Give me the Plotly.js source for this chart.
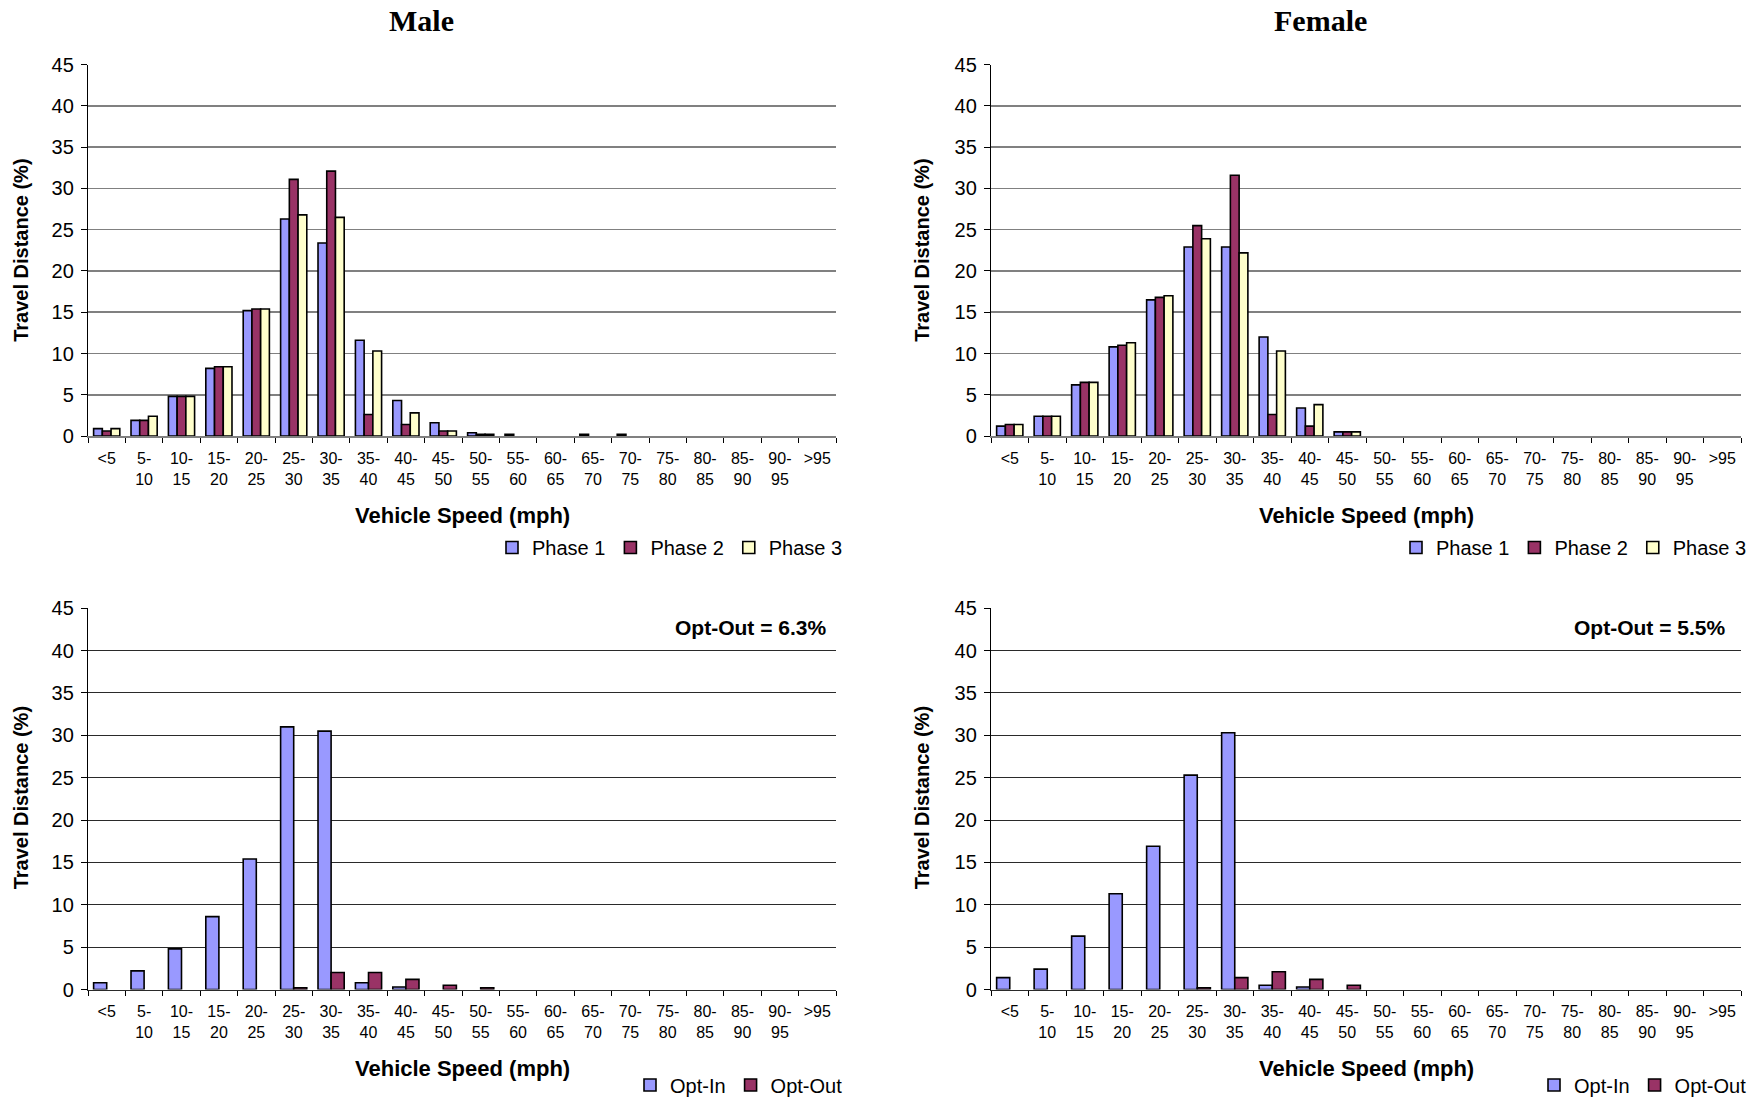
<!DOCTYPE html>
<html>
<head>
<meta charset="utf-8">
<script src="https://cdn.plot.ly/plotly-3.0.1.min.js"></script>
<style>
  html, body { margin: 0; padding: 0; background: #fff; }
  #chart { width: 1762px; height: 1105px; }
</style>
</head>
<body>
<div id="chart"></div>
<script>
// ---- data ----
const categories = ["<5","5-10","10-15","15-20","20-25","25-30","30-35","35-40","40-45","45-50",
                    "50-55","55-60","60-65","65-70","70-75","75-80","80-85","85-90","90-95",">95"];
const tickLabels = ["<5","5-<br>10","10-<br>15","15-<br>20","20-<br>25","25-<br>30","30-<br>35","35-<br>40","40-<br>45","45-<br>50",
                    "50-<br>55","55-<br>60","60-<br>65","65-<br>70","70-<br>75","75-<br>80","80-<br>85","85-<br>90","90-<br>95",">95"];
const yTickValues = [0,5,10,15,20,25,30,35,40,45];

const malePhase1 = [0.9,1.9,4.8,8.2,15.2,26.3,23.4,11.6,4.3,1.6,0.4,0.2,0,0.2,0.2,0,0,0,0,0];
const malePhase2 = [0.6,1.9,4.8,8.4,15.4,31.1,32.1,2.6,1.4,0.6,0.2,0,0,0,0,0,0,0,0,0];
const malePhase3 = [0.9,2.4,4.8,8.4,15.4,26.8,26.5,10.3,2.8,0.6,0.2,0,0,0,0,0,0,0,0,0];

const femalePhase1 = [1.2,2.4,6.2,10.8,16.5,22.9,22.9,12.0,3.4,0.5,0,0,0,0,0,0,0,0,0,0];
const femalePhase2 = [1.4,2.4,6.5,11.0,16.8,25.5,31.6,2.6,1.2,0.5,0,0,0,0,0,0,0,0,0,0];
const femalePhase3 = [1.4,2.4,6.5,11.3,17.0,23.9,22.2,10.3,3.8,0.5,0,0,0,0,0,0,0,0,0,0];

const maleOptIn  = [0.8,2.2,4.8,8.6,15.4,31.0,30.5,0.8,0.3,0,0,0,0,0,0,0,0,0,0,0];
const maleOptOut = [0,0,0,0,0,0.2,2.0,2.0,1.2,0.5,0.2,0,0,0,0,0,0,0,0,0];

const femaleOptIn  = [1.4,2.4,6.3,11.3,16.9,25.3,30.3,0.5,0.3,0,0,0,0,0,0,0,0,0,0,0];
const femaleOptOut = [0,0,0,0,0,0.2,1.4,2.1,1.2,0.5,0,0,0,0,0,0,0,0,0,0];

const panelTitles = ["Male","Female"];
const optOutNotes = ["Opt-Out = 6.3%","Opt-Out = 5.5%"];
const phaseNames = ["Phase 1","Phase 2","Phase 3"];
const optNames = ["Opt-In","Opt-Out"];

// ---- styles ----
const colP1 = "#9999FF", colP2 = "#993366", colP3 = "#FFFFCC";
const sans = "Liberation Sans, Arial, sans-serif";
const W = 1762, H = 1105;
const px = v => v / W;
const py = v => 1 - v / H;

function bar(y, name, color, xa, ya, leg) {
  return {
    type: "bar", x: categories,
    // a zero value draws no bar at all (as in the original chart)
    y: y.map(v => (v === 0 ? null : v)),
    name: name, xaxis: xa, yaxis: ya, legend: leg, showlegend: true,
    marker: { color: color, line: { color: "#000", width: 1.6 } },
    hoverinfo: "x+y+name"
  };
}

const data = [
  bar(malePhase1, phaseNames[0], colP1, "x", "y", "legend"),
  bar(malePhase2, phaseNames[1], colP2, "x", "y", "legend"),
  bar(malePhase3, phaseNames[2], colP3, "x", "y", "legend"),
  bar(femalePhase1, phaseNames[0], colP1, "x2", "y2", "legend2"),
  bar(femalePhase2, phaseNames[1], colP2, "x2", "y2", "legend2"),
  bar(femalePhase3, phaseNames[2], colP3, "x2", "y2", "legend2"),
  bar(maleOptIn, optNames[0], colP1, "x3", "y3", "legend3"),
  bar(maleOptOut, optNames[1], colP2, "x3", "y3", "legend3"),
  bar(femaleOptIn, optNames[0], colP1, "x4", "y4", "legend4"),
  bar(femaleOptOut, optNames[1], colP2, "x4", "y4", "legend4")
];

function xax(domain, anchor, lineColor) {
  return {
    domain: domain, anchor: anchor, type: "category",
    range: [-0.5, categories.length - 0.5],
    tickmode: "array", tickvals: categories, ticktext: tickLabels,
    tickson: "boundaries", ticks: "outside", ticklen: 5, tickwidth: 1, tickcolor: "#000",
    showline: true, linecolor: lineColor, linewidth: 1.5,
    showgrid: false, zeroline: false,
    tickfont: { family: sans, size: 16, color: "#000" },
    ticklabelstandoff: 7,
    tickangle: 0, fixedrange: true
  };
}
function yax(domain, anchor, gridColor, gridWidth) {
  return {
    domain: domain, anchor: anchor, range: [0, 45],
    tickmode: "array", tickvals: yTickValues,
    ticks: "outside", ticklen: 6, tickwidth: 1, tickcolor: "#000",
    showline: true, linecolor: "#000", linewidth: 1.2,
    showgrid: true, gridcolor: gridColor, gridwidth: gridWidth,
    zeroline: false,
    tickfont: { family: sans, size: 20, color: "#000" },
    ticklabelstandoff: 3, fixedrange: true
  };
}

const xL = [px(88), px(836)], xR = [px(991), px(1741)];
const yT = [py(438), py(65)], yB = [py(994), py(611)];
const gridTop = "#808080", gridBot = "#2a2a2a";

function legendAt(xRight, yCenter) {
  return {
    orientation: "h", x: px(xRight), xanchor: "right", y: py(yCenter), yanchor: "middle",
    font: { family: sans, size: 20, color: "#000" },
    bgcolor: "rgba(0,0,0,0)", itemwidth: 30, tracegroupgap: 0,
    traceorder: "normal", itemclick: false, itemdoubleclick: false
  };
}

const annotations = [];
function addText(text, x, y, opts) {
  annotations.push(Object.assign({
    text: text, xref: "paper", yref: "paper", x: px(x), y: py(y),
    showarrow: false, xanchor: "center", yanchor: "middle"
  }, opts));
}
const titleFont = { family: "Liberation Serif, Times New Roman, serif", size: 30, color: "#000", weight: "bold" };
addText(panelTitles[0], 421, 21, { font: titleFont });
addText(panelTitles[1], 1320, 21, { font: titleFont });
const xTitleFont = { family: sans, size: 22, color: "#000", weight: "bold" };
const yTitleFont = { family: sans, size: 20, color: "#000", weight: "bold" };
addText("Vehicle Speed (mph)", 462, 518, { font: xTitleFont });
addText("Vehicle Speed (mph)", 1366, 518, { font: xTitleFont });
addText("Vehicle Speed (mph)", 462, 1073, { font: xTitleFont });
addText("Vehicle Speed (mph)", 1366, 1073, { font: xTitleFont });
addText("Travel Distance (%)", 21, 252, { font: yTitleFont, textangle: -90 });
addText("Travel Distance (%)", 922, 252, { font: yTitleFont, textangle: -90 });
addText("Travel Distance (%)", 21, 802, { font: yTitleFont, textangle: -90 });
addText("Travel Distance (%)", 922, 802, { font: yTitleFont, textangle: -90 });
const noteFont = { family: sans, size: 21, color: "#000", weight: "bold" };
addText(optOutNotes[0], 828, 630, { xanchor: "right", font: noteFont });
addText(optOutNotes[1], 1727, 630, { xanchor: "right", font: noteFont });

const layout = {
  width: W, height: H,
  margin: { l: 0, r: 0, t: 0, b: 0 },
  paper_bgcolor: "#fff", plot_bgcolor: "#fff",
  barmode: "group", bargap: 0.3, bargroupgap: 0,
  font: { family: sans, color: "#000" },
  xaxis: xax(xL, "y", gridTop),
  yaxis: yax(yT, "x", gridTop, 1.5),
  xaxis2: xax(xR, "y2", gridTop),
  yaxis2: yax(yT, "x2", gridTop, 1.5),
  xaxis3: xax(xL, "y3", gridBot),
  yaxis3: yax(yB, "x3", gridBot, 1),
  xaxis4: xax(xR, "y4", gridBot),
  yaxis4: yax(yB, "x4", gridBot, 1),
  legend: legendAt(848, 550),
  legend2: legendAt(1752, 550),
  legend3: legendAt(848, 1090),
  legend4: legendAt(1752, 1090),
  annotations: annotations
};

Plotly.newPlot("chart", data, layout, { displayModeBar: false, staticPlot: true });
</script>
</body>
</html>
